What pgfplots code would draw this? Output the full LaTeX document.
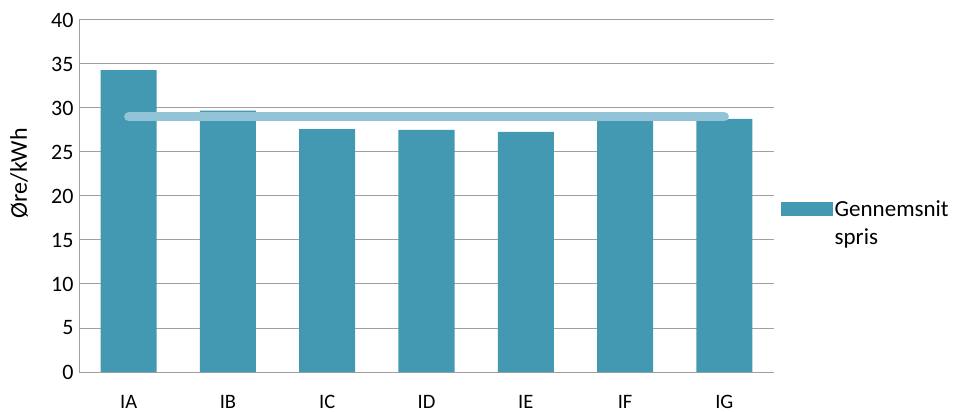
\documentclass[border=0pt]{standalone}
\usepackage{pgfplots}
\pgfplotsset{compat=1.18}
\usepackage{fontspec}
\setmainfont{Carlito}
\definecolor{barc}{HTML}{4399B1}
\definecolor{linec}{HTML}{92C3D6}
\definecolor{gridc}{HTML}{A0A0A0}
\begin{document}
\begin{tikzpicture}
\useasboundingbox (0,0) rectangle (958pt,412pt);
\begin{axis}[
  at={(79pt,40pt)}, anchor=south west,
  scale only axis, width=695pt, height=352pt,
  xmin=-0.5, xmax=6.5, ymin=0, ymax=40,
  ytick={0,5,...,40},
  xtick={0,...,6},
  xticklabels={IA,IB,IC,ID,IE,IF,IG},
  axis x line*=bottom, axis y line*=left,
  axis line style={gridc, line width=1pt, -},
  ymajorgrids, grid style={gridc, line width=1pt},
  major tick length=0pt,
  yticklabel style={font=\fontsize{22}{26}\selectfont, xshift=-2pt},
  /pgf/number format/assume math mode=true,
  xticklabel style={font=\fontsize{20.5}{24}\selectfont, inner sep=0pt, yshift=-23pt},
  ylabel={Øre/kWh},
  ylabel style={font=\fontsize{24}{28}\selectfont, at={(axis description cs:-0.086,0.565)}, anchor=center},
  legend style={draw=none, at={(1.005,0.467)}, anchor=west,
    font=\fontsize{23}{28}\selectfont,
    cells={anchor=base west}},
  legend image code/.code={\fill[#1,draw=none] (0pt,1pt) rectangle (52pt,14.5pt);},
]
\addplot[ybar, bar width=56pt, fill=barc, draw=none] coordinates {
  (0,34.3) (1,29.7) (2,27.6) (3,27.5) (4,27.3) (5,29.0) (6,28.75)};
\addlegendentry{\begin{tabular}[t]{@{}l@{}}Gennemsnit\\spris\end{tabular}}
\addplot[linec, line width=9pt, line cap=round, forget plot] coordinates {(0,29.0) (6,29.0)};
\end{axis}
\end{tikzpicture}
\end{document}
